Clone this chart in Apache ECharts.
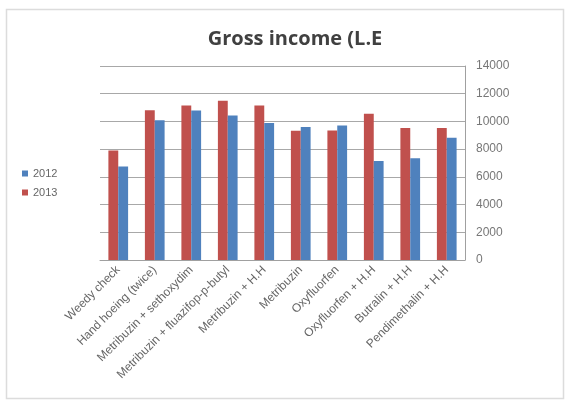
<!DOCTYPE html>
<html>
<head>
<meta charset="utf-8">
<script src="https://cdn.jsdelivr.net/npm/echarts@6/dist/echarts.min.js"></script>
<style>html,body{margin:0;padding:0;background:#fff;}#c{width:567px;height:407px;}</style>
</head>
<body>
<div id="c"></div>
<script>
var categories = ["Weedy check", "Hand hoeing (twice)", "Metribuzin + sethoxydim", "Metribuzin + fluazifop-p-butyl", "Metribuzin + H.H", "Metribuzin", "Oxyfluorfen", "Oxyfluorfen + H.H", "Butralin + H.H", "Pendimethalin + H.H"];
var values2013 = [7900, 10800, 11150, 11500, 11150, 9330, 9340, 10550, 9520, 9520];
var values2012 = [6750, 10080, 10780, 10430, 9880, 9600, 9700, 7150, 7340, 8830];
var yTicks = [0, 2000, 4000, 6000, 8000, 10000, 12000, 14000];

var chart = echarts.init(document.getElementById('c'), null, {renderer: 'canvas'});
chart.setOption({
  animation: false,
  backgroundColor: '#ffffff',
  title: {
    text: 'Gross income (L.E',
    left: 290, top: 24, textAlign: 'center',
    textStyle: {fontFamily: 'Open Sans', fontWeight: 'bold', fontSize: 20, color: '#404040'}
  },
  graphic: [{
    type: 'rect', shape: {x: 6.5, y: 9.5, width: 557, height: 389},
    style: {fill: 'none', stroke: '#dcdcdc', lineWidth: 1.5}, silent: true, z: -1
  }],
  legend: {
    data: ['2012', '2013'], orient: 'vertical', left: 17, top: 163,
    itemWidth: 6, itemHeight: 6, itemGap: 8, icon: 'rect',
    textStyle: {fontFamily: 'Liberation Sans', fontSize: 11, color: '#666'}
  },
  grid: {left: 100, right: 102, top: 66, bottom: 147},
  xAxis: {
    type: 'category', data: categories,
    axisLine: {lineStyle: {color: '#a0a0a0'}},
    axisTick: {show: false},
    axisLabel: {rotate: 45, interval: 0, fontFamily: 'Liberation Sans', fontSize: 12, color: '#666', margin: 8}
  },
  yAxis: {
    type: 'value', position: 'right', min: 0, max: 14000, interval: 2000,
    axisLine: {show: true, lineStyle: {color: '#a0a0a0'}},
    axisTick: {show: false},
    splitLine: {lineStyle: {color: '#a8a8a8'}},
    axisLabel: {
      fontFamily: 'Liberation Sans', fontSize: 12, color: '#777', margin: 11,
      formatter: function (v) { return yTicks.indexOf(v) >= 0 ? String(v) : ''; }
    }
  },
  series: [
    {name: '2013', type: 'bar', data: values2013, itemStyle: {color: '#C0504D'}, barGap: '0%', barCategoryGap: '46%'},
    {name: '2012', type: 'bar', data: values2012, itemStyle: {color: '#4F81BD'}, barGap: '0%', barCategoryGap: '46%'}
  ]
});
</script>
</body>
</html>
